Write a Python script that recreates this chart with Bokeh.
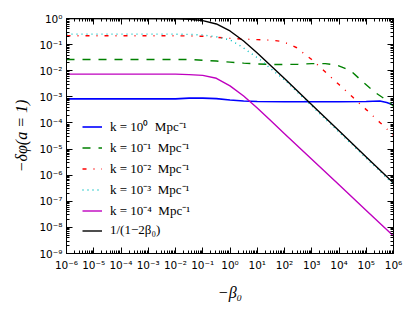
import numpy as np
from bokeh.plotting import figure
from bokeh.models import (LogAxis, FixedTicker, CustomJSTickFormatter, Legend,
                          LegendItem, Range1d)
from bokeh.embed import file_html
from bokeh.resources import INLINE

# ---------------- data (log10 of -beta0 and log10 of -delta phi) ----------------
blue_lx = [-6, -2, -1.5, -1, -0.5, 0, 0.5, 1, 2, 3, 4, 5, 5.5, 5.75, 6]
blue_ly = [-3.08, -3.08, -3.05, -3.05, -3.07, -3.12, -3.16, -3.18, -3.19, -3.19, -3.19, -3.18, -3.16, -3.22, -3.31]

green_lx = [-6, -1.5, -1, -0.5, 0, 0.5, 1, 1.5, 2, 2.5, 3, 3.5, 3.9, 4.2, 4.5, 4.9, 5.35, 5.78, 6]
green_ly = [-1.57, -1.57, -1.6, -1.63, -1.67, -1.71, -1.74, -1.76, -1.76, -1.75, -1.73, -1.73, -1.78, -1.9, -2.07, -2.45, -2.85, -3.15, -3.36]

red_lx = [-6, -2, -1, -0.5, 0, 0.5, 1, 1.5, 1.85, 2.15, 2.45, 2.72, 3, 3.5, 4, 4.5, 5, 5.5, 6]
red_ly = [-0.66, -0.66, -0.68, -0.72, -0.76, -0.79, -0.81, -0.83, -0.87, -0.97, -1.12, -1.35, -1.57, -2.05, -2.53, -3.01, -3.49, -3.98, -4.47]

cyan_lx = [-6, -2, -1.5, -1, -0.5, 0, 0.4, 0.75, 1.1, 1.4, 2, 3, 4, 5, 6]
cyan_ly = [-0.6, -0.6, -0.61, -0.63, -0.7, -0.82, -1.06, -1.32, -1.57, -1.84, -2.35, -3.35, -4.35, -5.35, -6.35]

magenta_lx = [-6, -2, -1.5, -1, -0.5, 0, 0.5, 1, 1.5, 2, 3, 4, 5, 6]
magenta_ly = [-2.13, -2.13, -2.15, -2.18, -2.29, -2.58, -2.97, -3.43, -3.92, -4.41, -5.39, -6.37, -7.35, -8.33]

black_lx = [-6, -2, -1.5, -1, -0.5, 0, 0.5, 1, 1.5, 2, 3, 4, 5, 6]
black_ly = [0.0, -0.009, -0.026, -0.079, -0.21, -0.477, -0.86, -1.32, -1.81, -2.30, -3.30, -4.30, -5.30, -6.30]

legend_labels = ["k = 10⁰  Mpc⁻¹", "k = 10⁻¹  Mpc⁻¹", "k = 10⁻²  Mpc⁻¹",
                 "k = 10⁻³  Mpc⁻¹", "k = 10⁻⁴  Mpc⁻¹", "1/(1−2β₀)"]

x_tick_exps = [-6, -5, -4, -3, -2, -1, 0, 1, 2, 3, 4, 5, 6]
x_tick_labels = ["10⁻⁶", "10⁻⁵", "10⁻⁴", "10⁻³", "10⁻²", "10⁻¹", "10⁰",
                 "10¹", "10²", "10³", "10⁴", "10⁵", "10⁶"]
y_tick_exps = [-9, -8, -7, -6, -5, -4, -3, -2, -1, 0]
y_tick_labels = ["10⁻⁹", "10⁻⁸", "10⁻⁷", "10⁻⁶", "10⁻⁵", "10⁻⁴", "10⁻³",
                 "10⁻²", "10⁻¹", "10⁰"]

x_label = "−β₀"
y_label = "−δφ(a = 1)"

# ---------------- figure ----------------
p = figure(width=407, height=303, x_axis_type="log", y_axis_type="log",
           x_range=Range1d(1e-6, 1e6), y_range=Range1d(1e-9, 1),
           output_backend="svg", toolbar_location=None,
           min_border_left=66, min_border_right=14,
           min_border_top=18, min_border_bottom=50)
p.xgrid.visible = False
p.ygrid.visible = False
p.outline_line_color = "black"
p.outline_line_width = 1
p.background_fill_color = "white"
p.border_fill_color = "white"


def ticks_for(exps):
    major = [10.0 ** e for e in exps]
    minor = [m * 10.0 ** e for e in exps[:-1] for m in range(2, 10)]
    return major, minor


xt, xm = ticks_for(x_tick_exps)
yt, ym = ticks_for(y_tick_exps)

fmt_code = """
const e = Math.round(Math.log10(tick));
const i = exps.indexOf(e);
return i >= 0 ? labels[i] : "";
"""


def style_axis(ax, labels_on=True):
    ax.major_tick_in = 6
    ax.major_tick_out = 0
    ax.minor_tick_in = 3
    ax.minor_tick_out = 0
    ax.axis_line_color = "black"
    ax.major_tick_line_color = "black"
    ax.minor_tick_line_color = "black"
    ax.major_label_text_font = "DejaVu Sans"
    ax.major_label_text_font_size = "10.5px"
    ax.major_label_text_color = "black"
    if not labels_on:
        ax.major_label_standoff = 0


p.xaxis.ticker = FixedTicker(ticks=xt, minor_ticks=xm)
p.yaxis.ticker = FixedTicker(ticks=yt, minor_ticks=ym)
p.xaxis.formatter = CustomJSTickFormatter(args=dict(exps=x_tick_exps, labels=x_tick_labels), code=fmt_code)
p.yaxis.formatter = CustomJSTickFormatter(args=dict(exps=y_tick_exps, labels=y_tick_labels), code=fmt_code)
for ax in p.xaxis + p.yaxis:
    style_axis(ax)
p.xaxis.major_label_standoff = 5
p.yaxis.major_label_standoff = 4

p.xaxis.axis_label = x_label
p.yaxis.axis_label = y_label
for ax in p.xaxis + p.yaxis:
    ax.axis_label_text_font = "Liberation Serif"
    ax.axis_label_text_font_style = "italic"
    ax.axis_label_text_font_size = "16px"
    ax.axis_label_text_color = "black"
p.xaxis.axis_label_standoff = 10
p.yaxis.axis_label_standoff = 6

top_axis = LogAxis(ticker=FixedTicker(ticks=xt, minor_ticks=xm),
                   formatter=CustomJSTickFormatter(code="return '';"))
right_axis = LogAxis(ticker=FixedTicker(ticks=yt, minor_ticks=ym),
                     formatter=CustomJSTickFormatter(code="return '';"))
style_axis(top_axis, False)
style_axis(right_axis, False)
p.add_layout(top_axis, "above")
p.add_layout(right_axis, "right")

series = [
    (blue_lx, blue_ly, "#0000ff", None, 1.6),
    (green_lx, green_ly, "#008000", "8 8", 1.4),
    (red_lx, red_ly, "#ff0000", "4 7 1 7", 1.4),
    (cyan_lx, cyan_ly, "#00bfbf", "1 4", 1.4),
    (magenta_lx, magenta_ly, "#bf00bf", None, 1.4),
    (black_lx, black_ly, "#000000", None, 1.4),
]
renderers = []
for lx, ly, col, dash, lw in series:
    kw = dict(line_color=col, line_width=lw)
    if dash:
        kw["line_dash"] = dash
    r = p.line(np.power(10.0, lx), np.power(10.0, ly), **kw)
    renderers.append(r)

items = [LegendItem(label=lab, renderers=[r]) for lab, r in zip(legend_labels, renderers)]
legend = Legend(items=items, location=(11, 10))
legend.glyph_width = 20
legend.glyph_height = 15
legend.label_height = 15
legend.spacing = 3
legend.padding = 5
legend.margin = 0
legend.label_standoff = 8
legend.label_text_font = "Liberation Serif"
legend.label_text_font_size = "13px"
legend.label_text_color = "black"
legend.background_fill_alpha = 0
legend.border_line_alpha = 0
p.add_layout(legend, "center")

open("out.html", "w").write(file_html(p, INLINE))
